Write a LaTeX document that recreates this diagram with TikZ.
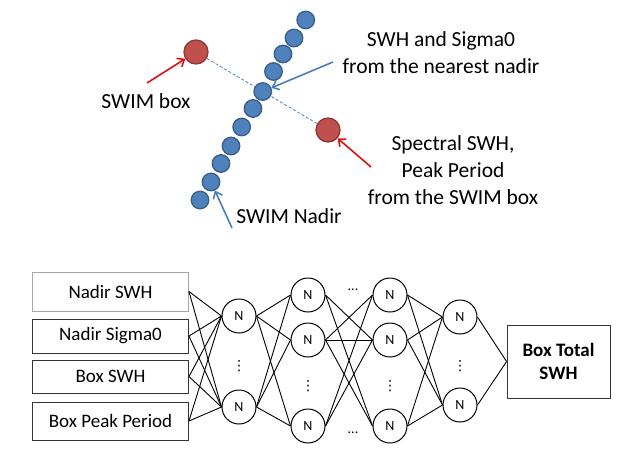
\documentclass[tikz,border=0pt]{standalone}
\usepackage{fontspec}
\setmainfont{Carlito}
\newfontfamily\dejavu{DejaVu Sans}
\usetikzlibrary{arrows.meta,backgrounds}
\definecolor{dotblue}{HTML}{4F81BD}
\definecolor{dotblueb}{HTML}{385D8A}
\definecolor{dotred}{HTML}{C0504D}
\definecolor{dotredb}{HTML}{8C3836}
\definecolor{arrred}{HTML}{E01010}
\definecolor{arrblue}{HTML}{4A7EBB}
\tikzset{
  bdot/.style={circle,fill=dotblue,draw=dotblueb,line width=1.3pt,minimum size=17.5pt,inner sep=0pt},
  rdot/.style={circle,fill=dotred,draw=dotredb,line width=1.3pt,minimum size=24pt,inner sep=0pt},
  redarrow/.style={draw=arrred,line width=1.6pt,-{Straight Barb[length=6pt,width=10pt]}},
  bluearrow/.style={draw=arrblue,line width=1.6pt,-{Straight Barb[length=6pt,width=10pt]}},
  annot/.style={align=center,font=\fontsize{21.5}{27}\selectfont,inner sep=0pt},
  inbox/.style={draw=black!80,line width=0.9pt,minimum width=156pt,inner sep=0pt,font=\fontsize{19}{23}\selectfont},
  neuron/.style={circle,draw=black,line width=1pt,minimum size=34pt,inner sep=0pt,font=\fontsize{14}{16}\selectfont},
  vdot/.style={inner sep=0pt,font=\dejavu\fontsize{14}{16}\selectfont},
  hdot/.style={inner sep=0pt,font=\fontsize{14}{16}\selectfont},
  link/.style={draw=black,line width=0.9pt},
  outbox/.style={draw=black!80,line width=0.9pt,minimum width=103pt,minimum height=73pt,inner sep=0pt,align=center,font=\fontsize{19}{23}\selectfont\bfseries}
}
\begin{document}
\begin{tikzpicture}[x=1pt,y=-1pt]
\useasboundingbox (0,0) rectangle (640,451);
% ---- top: nadir track and SWIM boxes
\node[bdot] (p1) at (305.7,20) {};
\node[bdot] (p2) at (294,38) {};
\node[bdot] (p3) at (283,54) {};
\node[bdot] (p4) at (273.5,71.5) {};
\node[bdot] (p5) at (262.7,91.5) {};
\node[bdot] (p6) at (253,108.5) {};
\node[bdot] (p7) at (241.7,127) {};
\node[bdot] (p8) at (231,146) {};
\node[bdot] (p9) at (221,163.5) {};
\node[bdot] (p10) at (211,182) {};
\node[bdot] (p11) at (200,200) {};
\node[rdot] (r1) at (196,52) {};
\node[rdot] (r2) at (328,130) {};
\begin{scope}[on background layer]
\draw[dotblue,line width=0.8pt,dash pattern=on 3pt off 2pt] (r1) -- (r2);
\end{scope}
\coordinate (t1) at (147,83);
\coordinate (t2) at (371,167);
\coordinate (t3) at (333,62);
\coordinate (t4) at (232,228);
\draw[redarrow] (t1) -- (r1);
\draw[redarrow] (t2) -- (r2);
\draw[bluearrow] (t3) -- (p5);
\draw[bluearrow] (t4) -- (p10);
\node[annot] (lbox) at (146,101) {SWIM box};
\node[annot] (lnear) at (441,52.5) {SWH and Sigma0\\from the nearest nadir};
\node[annot] (lspec) at (453,170) {Spectral SWH,\\Peak Period\\from the SWIM box};
\node[annot] (lnad) at (289,216) {SWIM Nadir};
% ---- bottom: network
\node[inbox,draw=black!35,minimum height=39pt] (i1) at (110.5,291.5) {Nadir SWH};
\node[inbox,minimum height=34pt] (i2) at (110.5,336) {Nadir Sigma0};
\node[inbox,minimum height=33pt] (i3) at (110.5,376.5) {Box SWH};
\node[inbox,minimum height=38pt] (i4) at (110.5,421) {Box Peak Period};
\node[neuron] (a1) at (239,316) {N};
\node[neuron] (a2) at (239,407) {N};
\node[vdot] (da) at (239,366) {⋮};
\node[neuron] (b1) at (308,295) {N};
\node[neuron] (b2) at (308,340) {N};
\node[neuron] (b3) at (308,426) {N};
\node[vdot] (db) at (308,386) {⋮};
\node[neuron] (c1) at (390,295) {N};
\node[neuron] (c2) at (390,340) {N};
\node[neuron] (c3) at (390,426) {N};
\node[vdot] (dc) at (390,386) {⋮};
\node[hdot] (hd1) at (353,290) {...};
\node[hdot] (hd2) at (353,433) {...};
\node[neuron] (e1) at (460,317) {N};
\node[neuron] (e2) at (460,405) {N};
\node[vdot] (de) at (460,366) {⋮};
\node[outbox] (out) at (558.5,361.5) {Box Total\\SWH};
\foreach \i in {i1,i2,i3,i4} {
  \foreach \j in {a1,a2} { \draw[link] (\i.east) -- (\j.west); }
}
\foreach \i in {a1,a2} {
  \foreach \j in {b1,b2,b3} { \draw[link] (\i.east) -- (\j.west); }
}
\draw[link] (b1.east) -- (c2.west);
\draw[link] (b1.east) -- (c3.west);
\draw[link] (b2.east) -- (c1.west);
\draw[link] (b2.east) -- (c2.west);
\draw[link] (b2.east) -- (c3.west);
\draw[link] (b3.east) -- (c1.west);
\draw[link] (b3.east) -- (c2.west);
\foreach \i in {c1,c2,c3} {
  \foreach \j in {e1,e2} { \draw[link] (\i.east) -- (\j.west); }
}
\draw[link] (e1.east) -- (out.west);
\draw[link] (e2.east) -- (out.west);
\end{tikzpicture}
\end{document}
